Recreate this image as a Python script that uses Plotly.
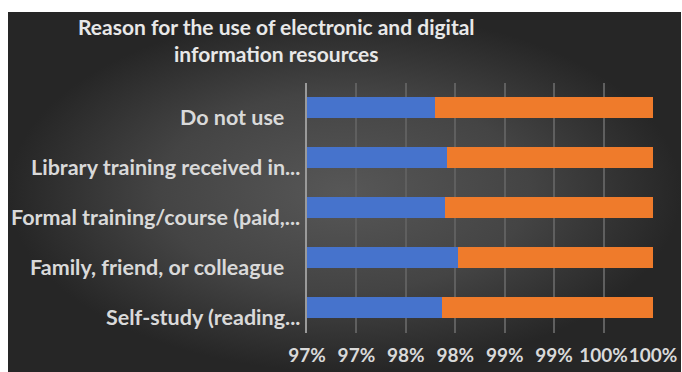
import plotly.graph_objects as go

# ---- data (bottom to top as in the source sheet) ----
categories = [
    "Self-study (reading...",
    "Family, friend, or colleague",
    "Formal training/course (paid,...",
    "Library training received in...",
    "Do not use",
]
label_pad = [0, 3, 0, 0, 3]   # trailing blanks present in the original labels
series_a = [97.87, 98.03, 97.90, 97.92, 97.79]   # blue share (%)
series_b = [2.13, 1.97, 2.10, 2.08, 2.21]        # orange share (%)
tick_values = [96.5, 97.0, 97.5, 98.0, 98.5, 99.0, 99.5, 100.0]
tick_labels = ["97%", "97%", "98%", "98%", "99%", "99%", "100%", "100%"]
title_text = "Reason for the use of electronic and digital<br>information resources"

W, H = 682, 372
FONT = "Lato"

fig = go.Figure()

# background panel with radial gradient (decoration, on a hidden full-page axis pair)
fig.add_trace(go.Scatter(
    x=[8, 681, 681, 8, 8], y=[12, 12, 372, 372, 12],
    xaxis="x", yaxis="y", mode="lines", line=dict(width=0),
    fill="toself",
    fillgradient=dict(type="radial",
                      colorscale=[[0, "#575757"], [0.55, "#444444"], [1, "#262626"]]),
    hoverinfo="skip", showlegend=False,
))

fig.add_trace(go.Bar(
    y=categories, x=series_a, orientation="h", name="A",
    marker=dict(color="#4673cc", line=dict(width=0)),
    xaxis="x2", yaxis="y2", showlegend=False,
))
fig.add_trace(go.Bar(
    y=categories, x=series_b, orientation="h", name="B",
    marker=dict(color="#ef7b2b", line=dict(width=0)),
    xaxis="x2", yaxis="y2", showlegend=False,
))

x0, x1 = 307 / W, 653 / W
y0, y1 = 1 - 332.5 / H, 1 - 82.5 / H

annotations = [
    dict(text=title_text, xref="paper", yref="paper", x=276 / W, y=1 - 12 / H,
         xanchor="center", yanchor="top", showarrow=False, align="center",
         font=dict(family=FONT, size=21, color="#e8e8e8", weight="bold")),
]
for cat, pad in zip(categories, label_pad):
    annotations.append(dict(
        text=cat + "\u00a0" * pad, xref="paper", yref="y2", x=302 / W, y=cat,
        xanchor="right", yanchor="middle", yshift=-9, showarrow=False,
        font=dict(family=FONT, size=21.5, color="#d9d9d9", weight="bold")))

fig.update_layout(
    width=W, height=H,
    margin=dict(l=0, r=0, t=0, b=0, autoexpand=False),
    paper_bgcolor="white", plot_bgcolor="rgba(0,0,0,0)",
    barmode="stack", bargap=0.58,
    font=dict(family=FONT, color="#d9d9d9"),
    annotations=annotations,
    xaxis=dict(domain=[0, 1], range=[0, W], visible=False, fixedrange=True,
               automargin=False),
    yaxis=dict(domain=[0, 1], range=[H, 0], visible=False, fixedrange=True,
               automargin=False),
    xaxis2=dict(domain=[x0, x1], anchor="y2", range=[96.5, 100],
                tickmode="array", tickvals=tick_values, ticktext=tick_labels,
                tickangle=0,
                showgrid=True, gridcolor="#5f5f5f", gridwidth=2,
                zeroline=False, showline=False, ticks="", automargin=False,
                tickfont=dict(family=FONT, size=19, color="#d9d9d9", weight="bold"),
                ticklabelstandoff=9),
    yaxis2=dict(domain=[y0, y1], anchor="x2", showgrid=False,
                showline=True, linecolor="#9a9a9a", linewidth=2,
                ticks="", zeroline=False, showticklabels=False, automargin=False),
)

fig.write_html("out.html")
